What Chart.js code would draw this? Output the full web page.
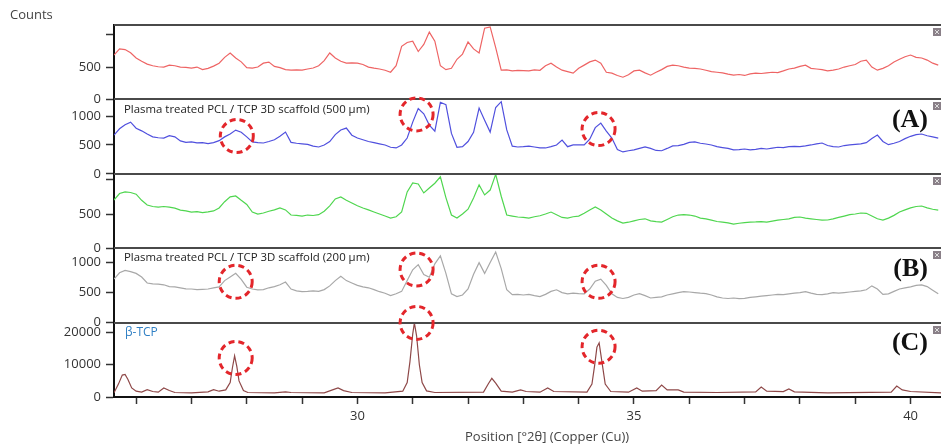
<!DOCTYPE html>
<html>
<head>
<meta charset="utf-8">
<script src="https://cdn.jsdelivr.net/npm/chart.js@4.4.0/dist/chart.umd.min.js"></script>
<style>
  html, body { margin: 0; padding: 0; background: #fff; }
  #wrap { position: relative; width: 941px; height: 447px; }
</style>
</head>
<body>
<div id="wrap"><canvas id="xrdChart" width="941" height="447"></canvas></div>
<script>
// 2-theta positions (degrees) shared by the four scaffold scans
const twoTheta = [
  25.6, 25.7, 25.8, 25.9, 26.0, 26.1, 26.2, 26.3, 26.4, 26.5,
  26.6, 26.7, 26.8, 26.9, 27.0, 27.1, 27.2, 27.3, 27.4, 27.5,
  27.6, 27.7, 27.8, 27.9, 28.0, 28.1, 28.2, 28.3, 28.4, 28.5,
  28.6, 28.7, 28.8, 28.9, 29.0, 29.1, 29.2, 29.3, 29.4, 29.5,
  29.6, 29.7, 29.8, 29.9, 30.0, 30.1, 30.2, 30.3, 30.4, 30.5,
  30.6, 30.7, 30.8, 30.9, 31.0, 31.1, 31.2, 31.3, 31.4, 31.5,
  31.6, 31.7, 31.8, 31.9, 32.0, 32.1, 32.2, 32.3, 32.4, 32.5,
  32.6, 32.7, 32.8, 32.9, 33.0, 33.1, 33.2, 33.3, 33.4, 33.5,
  33.6, 33.7, 33.8, 33.9, 34.0, 34.1, 34.2, 34.3, 34.4, 34.5,
  34.6, 34.7, 34.8, 34.9, 35.0, 35.1, 35.2, 35.3, 35.4, 35.5,
  35.6, 35.7, 35.8, 35.9, 36.0, 36.1, 36.2, 36.3, 36.4, 36.5,
  36.6, 36.7, 36.8, 36.9, 37.0, 37.1, 37.2, 37.3, 37.4, 37.5,
  37.6, 37.7, 37.8, 37.9, 38.0, 38.1, 38.2, 38.3, 38.4, 38.5,
  38.6, 38.7, 38.8, 38.9, 39.0, 39.1, 39.2, 39.3, 39.4, 39.5,
  39.6, 39.7, 39.8, 39.9, 40.0, 40.1, 40.2, 40.3, 40.4, 40.5
];

// counts, top panel (untreated 500 um scaffold)
const scaffold500 = [
  686, 780, 770, 720, 640, 590, 545, 520, 505, 500,
  530, 520, 500, 495, 484, 500, 460, 480, 515, 560,
  650, 718, 640, 580, 490, 484, 500, 560, 577, 510,
  490, 460, 452, 455, 452, 470, 485, 520, 600, 718,
  640, 590, 560, 565, 560, 540, 500, 484, 470, 450,
  420, 520, 820, 880, 900, 740, 850, 1040, 900, 520,
  460, 480, 620, 700, 889, 780, 718, 1100, 1120, 800,
  452, 455, 440, 450, 445, 440, 455, 450, 520, 560,
  500, 452, 430, 405, 480, 530, 580, 608, 560, 420,
  405, 370, 343, 380, 440, 452, 410, 374, 420, 460,
  510, 530, 520, 500, 484, 480, 470, 450, 430, 420,
  410, 390, 374, 385, 370, 395, 405, 400, 410, 420,
  415, 440, 470, 484, 510, 530, 480, 470, 460, 440,
  452, 470, 500, 520, 540, 590, 608, 500, 452, 480,
  520, 577, 620, 660, 686, 650, 640, 608, 560, 530
];

// plasma treated 500 um scaffold
const plasma500 = [
  672, 780, 850, 896, 790, 745, 690, 640, 625, 620,
  660, 640, 570, 545, 552, 535, 540, 525, 540, 575,
  640, 690, 758, 720, 640, 552, 540, 534, 560, 590,
  650, 724, 545, 530, 520, 510, 480, 465, 500, 560,
  680, 760, 793, 670, 620, 590, 560, 540, 520, 500,
  460, 448, 500, 620, 896, 1130, 1040, 845, 740, 1240,
  1200, 700, 460, 470, 560, 720, 1140, 930, 724, 1150,
  1250, 760, 480, 465, 470, 480, 465, 450, 448, 470,
  500, 586, 470, 500, 500, 500, 600, 800, 879, 740,
  620, 420, 379, 400, 414, 440, 465, 440, 405, 400,
  440, 483, 490, 510, 545, 552, 530, 517, 500, 470,
  455, 440, 414, 420, 430, 415, 425, 440, 430, 445,
  460, 455, 470, 475, 470, 483, 500, 520, 534, 490,
  470, 465, 490, 500, 510, 520, 540, 610, 672, 560,
  505, 530, 560, 610, 650, 680, 690, 660, 640, 620
];

// untreated 200 um scaffold
const scaffold200 = [
  705, 800, 823, 815, 790, 700, 632, 610, 602, 610,
  600, 585, 558, 545, 529, 535, 520, 530, 545, 588,
  680, 750, 764, 700, 640, 529, 500, 515, 540, 560,
  588, 560, 485, 480, 470, 485, 478, 490, 540, 620,
  720, 750, 700, 661, 620, 588, 560, 530, 500, 470,
  441, 460, 529, 823, 955, 940, 808, 880, 950, 1044,
  740, 485, 441, 500, 570, 735, 926, 779, 850, 1080,
  760, 485, 470, 456, 450, 441, 460, 475, 500, 529,
  490, 450, 440, 460, 470, 510, 560, 602, 560, 500,
  441, 400, 368, 380, 400, 420, 430, 400, 390, 382,
  420, 460, 485, 490, 485, 470, 440, 430, 410, 390,
  382, 370, 353, 365, 375, 382, 385, 390, 380, 395,
  410, 420, 430, 450, 456, 440, 430, 420, 410, 412,
  430, 450, 470, 490, 500, 515, 510, 470, 430, 412,
  440, 480, 529, 560, 590, 610, 617, 590, 570, 558
];

// plasma treated 200 um scaffold
const plasma200 = [
  725, 830, 870, 850, 820, 760, 660, 644, 640, 630,
  600, 596, 580, 563, 560, 550, 555, 560, 580, 596,
  700, 760, 821, 720, 590, 560, 547, 550, 580, 600,
  630, 676, 560, 530, 515, 520, 530, 520, 550, 612,
  700, 773, 700, 660, 620, 596, 580, 550, 515, 490,
  451, 480, 520, 700, 880, 966, 800, 757, 980, 1111,
  820, 480, 434, 460, 560, 805, 998, 820, 1000, 1176,
  900, 547, 467, 470, 460, 470, 450, 434, 470, 520,
  547, 500, 480, 490, 483, 480, 560, 690, 725, 620,
  480, 420, 402, 420, 460, 483, 450, 410, 420, 430,
  460, 480, 500, 515, 510, 500, 490, 483, 460, 430,
  410, 402, 410, 400, 405, 420, 430, 440, 450, 460,
  470, 465, 480, 490, 500, 515, 490, 470, 465, 480,
  500, 490, 500, 510, 520, 530, 547, 612, 560, 470,
  480, 520, 560, 580, 596, 620, 628, 600, 540, 480
];

// beta-TCP reference pattern (own positions, peaks are narrow)
const tcpTheta = [
  25.60, 25.68, 25.75, 25.80, 25.85, 25.92, 26.00, 26.10, 26.20, 26.30,
  26.40, 26.50, 26.60, 26.70, 27.00, 27.30, 27.40, 27.50, 27.62, 27.70,
  27.74, 27.78, 27.82, 27.86, 27.94, 28.02, 28.50, 28.70, 28.80, 29.40,
  29.55, 29.65, 29.75, 29.90, 30.50, 30.82, 30.90, 30.95, 31.00, 31.03,
  31.07, 31.12, 31.17, 31.25, 31.40, 32.28, 32.37, 32.43, 32.50, 32.60,
  32.80, 32.95, 33.05, 33.30, 33.44, 33.55, 34.15, 34.24, 34.29, 34.33,
  34.37, 34.42, 34.48, 34.58, 34.90, 35.05, 35.15, 35.40, 35.50, 35.60,
  35.80, 35.90, 36.50, 37.20, 37.30, 37.40, 37.70, 37.80, 37.90, 38.50,
  39.65, 39.75, 39.85, 40.00, 40.55
];
const tcpCounts = [
  1300, 4000, 6800, 7000, 5500, 2800, 1800, 1500, 2300, 1700,
  1500, 2800, 2000, 1400, 1300, 1600, 2300, 1800, 2200, 4500,
  9000, 12800, 9500, 5000, 2000, 1400, 1300, 1600, 1400, 1300,
  2200, 2800, 2000, 1400, 1300, 1800, 4500, 11000, 19500, 23000,
  19000, 10000, 4500, 1900, 1400, 1500, 4200, 5800, 4300, 1800,
  1500, 2200, 1700, 1500, 2800, 1700, 1500, 4000, 10000, 15500,
  16800, 11000, 4000, 1700, 1500, 2800, 1800, 2000, 3700, 2200,
  2200, 1500, 1400, 1600, 3100, 1800, 1700, 2500, 1600, 1300,
  1500, 3400, 2200, 1700, 1300
];

// axis ticks
const xTickValues = [26, 27, 28, 29, 30, 31, 32, 33, 34, 35, 36, 37, 38, 39, 40];
const xTickLabels = ['', '', '', '', '30', '', '', '', '', '35', '', '', '', '', '40'];
const countTicks = [0, 500, 1000];
const topTickLabels = ['0', '500', ''];
const fullTickLabels = ['0', '500', '1000'];
const tcpTicks = [0, 10000, 20000];
const tcpTickLabels = ['0', '10000', '20000'];

// dashed circles marking the beta-TCP reflections
const markedPeaks = [
  { axis: 'yBlue', x: 27.82, y: 655 },
  { axis: 'yBlue', x: 31.07, y: 1030 },
  { axis: 'yBlue', x: 34.36, y: 776 },
  { axis: 'yGray', x: 27.8, y: 680 },
  { axis: 'yGray', x: 31.07, y: 885 },
  { axis: 'yGray', x: 34.36, y: 680 },
  { axis: 'yBrown', x: 27.8, y: 12100 },
  { axis: 'yBrown', x: 31.07, y: 23000 },
  { axis: 'yBrown', x: 34.36, y: 15600 }
];

const FONT = "'Open Sans', 'DejaVu Sans', sans-serif";

const toPoints = (xs, ys) => xs.map((x, i) => ({ x: x, y: ys[i] }));

const panelAxis = (max, tickValues, tickLabels, weight) => ({
  type: 'linear',
  position: 'left',
  stack: 'xrd',
  stackWeight: 1,
  weight: weight,
  min: 0,
  max: max,
  afterBuildTicks: (scale) => {
    scale.ticks = tickValues.map((v) => ({ value: v }));
  },
  afterFit: (scale) => {
    scale.width = 114;
  },
  border: { display: true, color: '#111', width: 2 },
  grid: { display: true, drawOnChartArea: false, drawTicks: true, tickLength: 8, color: '#333', tickWidth: 1.5 },
  ticks: {
    color: '#333',
    padding: 5,
    font: { family: FONT, size: 13 },
    callback: (value, index) => tickLabels[index]
  }
});

const lineSet = (points, axis, color) => ({
  data: points,
  yAxisID: axis,
  xAxisID: 'x',
  borderColor: color,
  borderWidth: 1.2,
  pointRadius: 0,
  tension: 0,
  fill: false
});

const overlayPlugin = {
  id: 'overlay',
  afterDraw(chart) {
    const ctx = chart.ctx;
    const area = chart.chartArea;
    const ids = ['yRed', 'yBlue', 'yGreen', 'yGray', 'yBrown'];
    ctx.save();

    // panel separators
    ctx.strokeStyle = '#4a4a4a';
    ctx.lineWidth = 2;
    ids.forEach((id) => {
      const top = Math.round(chart.scales[id].top);
      ctx.beginPath();
      ctx.moveTo(area.left, top);
      ctx.lineTo(area.right, top);
      ctx.stroke();
      // small close box at the right end
      ctx.fillStyle = '#8a8088';
      ctx.fillRect(area.right - 8, top + 3, 8, 8);
      ctx.strokeStyle = '#ddd';
      ctx.lineWidth = 1;
      ctx.beginPath();
      ctx.moveTo(area.right - 6, top + 5);
      ctx.lineTo(area.right - 2, top + 9);
      ctx.moveTo(area.right - 2, top + 5);
      ctx.lineTo(area.right - 6, top + 9);
      ctx.stroke();
      ctx.strokeStyle = '#4a4a4a';
      ctx.lineWidth = 2;
    });

    // panel captions
    ctx.textBaseline = 'middle';
    ctx.textAlign = 'left';
    ctx.fillStyle = '#222';
    ctx.font = '11.4px ' + FONT;
    ctx.fillText('Plasma treated PCL / TCP 3D scaffold (500 \u03bcm)', area.left + 10, chart.scales.yBlue.top + 10);
    ctx.fillText('Plasma treated PCL / TCP 3D scaffold (200 \u03bcm)', area.left + 10, chart.scales.yGray.top + 10);
    ctx.fillStyle = '#2f7fc4';
    ctx.font = '12px ' + FONT;
    ctx.fillText('\u03b2-TCP', area.left + 11, chart.scales.yBrown.top + 10);

    ctx.fillStyle = '#111';
    ctx.textAlign = 'right';
    ctx.font = "bold 26px 'Liberation Serif', serif";
    ctx.fillText('(A)', 928, chart.scales.yBlue.top + 21);
    ctx.fillText('(B)', 928, chart.scales.yGray.top + 21);
    ctx.fillText('(C)', 928, chart.scales.yBrown.top + 21);

    // axis captions
    ctx.fillStyle = '#444';
    ctx.textAlign = 'left';
    ctx.font = '13px ' + FONT;
    ctx.fillText('Counts', 10, 15);
    ctx.fillText('Position [\u00b02\u03b8] (Copper (Cu))', 465, 437);

    // dashed circles
    ctx.strokeStyle = '#e3262b';
    ctx.lineWidth = 3;
    ctx.setLineDash([6, 4]);
    markedPeaks.forEach((m) => {
      const cx = chart.scales.x.getPixelForValue(m.x);
      const cy = chart.scales[m.axis].getPixelForValue(m.y);
      ctx.beginPath();
      ctx.arc(cx, cy, 16.5, 0, Math.PI * 2);
      ctx.stroke();
    });
    ctx.restore();
  }
};

const ctx = document.getElementById('xrdChart').getContext('2d');
const xrdChart = new Chart(ctx, {
  type: 'line',
  data: {
    datasets: [
      lineSet(toPoints(twoTheta, scaffold500), 'yRed', '#ee6464'),
      lineSet(toPoints(twoTheta, plasma500), 'yBlue', '#5050de'),
      lineSet(toPoints(twoTheta, scaffold200), 'yGreen', '#4fd64f'),
      lineSet(toPoints(twoTheta, plasma200), 'yGray', '#a8a8a8'),
      lineSet(toPoints(tcpTheta, tcpCounts), 'yBrown', '#8e4848')
    ]
  },
  options: {
    responsive: false,
    animation: false,
    layout: { padding: { top: 25, left: 0, right: 0, bottom: 0 } },
    plugins: { legend: { display: false }, tooltip: { enabled: false } },
    scales: {
      x: {
        type: 'linear',
        position: 'bottom',
        min: 25.6,
        max: 40.55,
        afterBuildTicks: (scale) => {
          scale.ticks = xTickValues.map((v) => ({ value: v }));
        },
        afterFit: (scale) => {
          scale.height = 50;
        },
        border: { display: true, color: '#111', width: 2 },
        grid: { drawOnChartArea: false, tickLength: 7, color: '#333', tickWidth: 1.5 },
        ticks: {
          autoSkip: false,
          maxRotation: 0,
          color: '#333',
          padding: 4,
          font: { family: FONT, size: 13 },
          callback: (value, index) => xTickLabels[index]
        }
      },
      yRed: panelAxis(1150, countTicks, topTickLabels, 5),
      yBlue: panelAxis(1290, countTicks, fullTickLabels, 4),
      yGreen: panelAxis(1088, countTicks, topTickLabels, 3),
      yGray: panelAxis(1240, countTicks, fullTickLabels, 2),
      yBrown: panelAxis(23100, tcpTicks, tcpTickLabels, 1)
    }
  },
  plugins: [overlayPlugin]
});
</script>
</body>
</html>
